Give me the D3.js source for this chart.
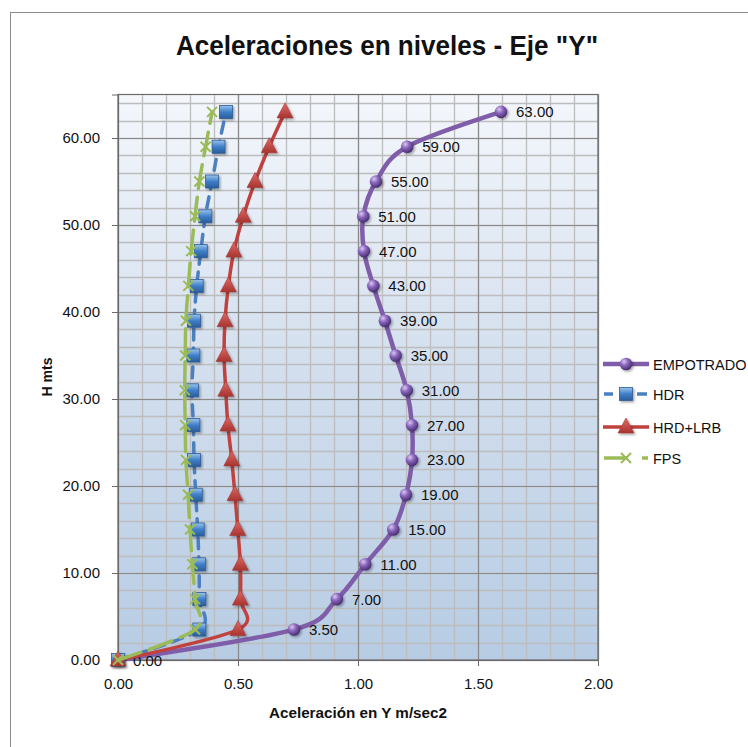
<!DOCTYPE html>
<html><head><meta charset="utf-8">
<script src="https://cdn.jsdelivr.net/npm/d3@7/dist/d3.min.js"></script>
<style>body{margin:0;background:#fff}svg{display:block}text{font-family:"Liberation Sans",Arial,sans-serif;fill:#111}</style>
</head><body>
<script>
const heights = [0,3.5,7,11,15,19,23,27,31,35,39,43,47,51,55,59,63];
const empotrado = [0,0.733,0.912,1.03,1.147,1.20,1.225,1.225,1.203,1.157,1.112,1.064,1.025,1.022,1.075,1.205,1.596];
const hdr = [0,0.339,0.339,0.3375,0.332,0.324,0.317,0.314,0.308,0.314,0.317,0.328,0.345,0.364,0.392,0.419,0.45];
const hrdLrb = [0,0.50,0.51,0.51,0.499,0.4875,0.474,0.458,0.449,0.442,0.446,0.46,0.483,0.522,0.571,0.63,0.696];
const fps = [0,0.321,0.321,0.31,0.30,0.292,0.283,0.28,0.278,0.28,0.283,0.293,0.305,0.321,0.339,0.365,0.392];
const xTicks = [0,0.5,1.0,1.5,2.0];
const yTicks = [0,10,20,30,40,50,60];
const seriesNames = ["EMPOTRADO","HDR","HRD+LRB","FPS"];

const W=748,H=747;
const svg=d3.select("body").append("svg").attr("width",W).attr("height",H);
const defs=svg.append("defs");
const bg=defs.append("linearGradient").attr("id","bg").attr("x1",0).attr("y1",0).attr("x2",0).attr("y2",1);
bg.append("stop").attr("offset","0%").attr("stop-color","#f4f7fc");
bg.append("stop").attr("offset","50%").attr("stop-color","#d2deed");
bg.append("stop").attr("offset","100%").attr("stop-color","#b7cce4");
const sph=defs.append("radialGradient").attr("id","sph").attr("cx","35%").attr("cy","30%").attr("r","70%");
sph.append("stop").attr("offset","0%").attr("stop-color","#d9c8f0");
sph.append("stop").attr("offset","45%").attr("stop-color","#8b66bd");
sph.append("stop").attr("offset","100%").attr("stop-color","#4a2f72");
const sq=defs.append("linearGradient").attr("id","sq").attr("x1",0).attr("y1",0).attr("x2",0).attr("y2",1);
sq.append("stop").attr("offset","0%").attr("stop-color","#9cc3ee");
sq.append("stop").attr("offset","50%").attr("stop-color","#3f7fc8");
sq.append("stop").attr("offset","100%").attr("stop-color","#2a5d9a");
const tri=defs.append("linearGradient").attr("id","tri").attr("x1",0).attr("y1",0).attr("x2",0).attr("y2",1);
tri.append("stop").attr("offset","0%").attr("stop-color","#e06a66");
tri.append("stop").attr("offset","100%").attr("stop-color","#a83430");
const sh=defs.append("filter").attr("id","sh").attr("x","-50%").attr("y","-50%").attr("width","200%").attr("height","200%");
sh.append("feDropShadow").attr("dx",1.5).attr("dy",1.5).attr("stdDeviation",1.2).attr("flood-color","#000").attr("flood-opacity",0.35);

// chart frame
svg.append("rect").attr("x",10.5).attr("y",12.5).attr("width",W).attr("height",H).attr("fill","#fff").attr("stroke","#8a8a8a");

const L=118,R=598,T=94.5,B=660;
const x=d3.scaleLinear().domain([0,2]).range([L,R]);
const y=d3.scaleLinear().domain([0,65]).range([B,T]);

svg.append("rect").attr("x",L).attr("y",T).attr("width",R-L).attr("height",B-T).attr("fill","url(#bg)");

const g=svg.append("g");
// minor grid
const xMinor=d3.range(0,2.0001,0.1), yMinor=d3.range(0,65,2);
g.selectAll(".vx").data(xMinor).join("line").attr("x1",d=>Math.round(x(d))+0.5).attr("x2",d=>Math.round(x(d))+0.5)
 .attr("y1",T).attr("y2",B).attr("stroke","#bdbdbd").attr("stroke-width",1.3);
g.selectAll(".hy").data(yMinor).join("line").attr("y1",d=>Math.round(y(d))+0.5).attr("y2",d=>Math.round(y(d))+0.5)
 .attr("x1",L).attr("x2",R).attr("stroke","#bdbdbd").attr("stroke-width",1.3);
// major grid
g.selectAll(".vX").data(xTicks).join("line").attr("x1",d=>Math.round(x(d))+0.5).attr("x2",d=>Math.round(x(d))+0.5)
 .attr("y1",T).attr("y2",B).attr("stroke","#8a8a8a").attr("stroke-width",1.2);
g.selectAll(".hY").data(yTicks).join("line").attr("y1",d=>Math.round(y(d))+0.5).attr("y2",d=>Math.round(y(d))+0.5)
 .attr("x1",L).attr("x2",R).attr("stroke","#8a8a8a").attr("stroke-width",1.2);
svg.append("rect").attr("x",L).attr("y",T).attr("width",R-L).attr("height",B-T).attr("fill","none").attr("stroke","#6a6a6a").attr("stroke-width",1.2);

// axes
const xAx=svg.append("g").attr("transform",`translate(0,${B})`).call(d3.axisBottom(x).tickValues(xTicks).tickFormat(d3.format(".2f")).tickSize(6).tickPadding(12));
const yAx=svg.append("g").attr("transform",`translate(${L},0)`).call(d3.axisLeft(y).tickValues(yTicks).tickFormat(d3.format(".2f")).tickSize(6).tickPadding(12));
[xAx,yAx].forEach(a=>{a.select(".domain").attr("stroke","#6a6a6a");a.selectAll("line").attr("stroke","#6a6a6a");
 a.selectAll("text").style("font-size","15px").attr("fill","#111").style("font-family","'Liberation Sans',Arial,sans-serif");});

// titles
svg.append("text").attr("x",387).attr("y",55).attr("text-anchor","middle").style("font-size","27px").style("font-weight","bold")
 .attr("textLength",422).attr("lengthAdjust","spacingAndGlyphs").text('Aceleraciones en niveles - Eje "Y"');
svg.append("text").attr("x",358).attr("y",718).attr("text-anchor","middle").style("font-size","14px").style("font-weight","bold")
 .attr("textLength",178).attr("lengthAdjust","spacingAndGlyphs").text("Aceleración en Y  m/sec2");
svg.append("text").attr("transform","translate(52,377) rotate(-90)").attr("text-anchor","middle").style("font-size","14px").style("font-weight","bold")
 .text("H mts");

const curve=d3.curveCardinal.tension(0);
const series=[
 {name:seriesNames[0],vals:empotrado,color:"#7f5da9",w:4.5,dash:null,marker:"sphere"},
 {name:seriesNames[1],vals:hdr,color:"#4a7fc1",w:3.5,dash:"11,8",marker:"square"},
 {name:seriesNames[2],vals:hrdLrb,color:"#c0413d",w:3.5,dash:null,marker:"triangle"},
 {name:seriesNames[3],vals:fps,color:"#9bbb59",w:3.5,dash:"24,9",marker:"x"}
];
function drawMarker(sel,type,cx,cy){
 if(type==="sphere") sel.append("circle").attr("cx",cx).attr("cy",cy).attr("r",6.3).attr("fill","url(#sph)").attr("filter","url(#sh)");
 else if(type==="square") sel.append("rect").attr("x",cx-6.5).attr("y",cy-6.5).attr("width",13).attr("height",13).attr("fill","url(#sq)").attr("stroke","#2c5c95").attr("stroke-width",0.8).attr("filter","url(#sh)");
 else if(type==="triangle") sel.append("path").attr("d",`M${cx},${cy-9}L${cx+8},${cy+6}L${cx-8},${cy+6}Z`).attr("fill","url(#tri)").attr("stroke","#a33a36").attr("stroke-width",0.6).attr("filter","url(#sh)");
 else sel.append("path").attr("d",`M${cx-5},${cy-5}L${cx+5},${cy+5}M${cx+5},${cy-5}L${cx-5},${cy+5}`).attr("stroke","#9bbb59").attr("stroke-width",2).attr("fill","none");
}
const line=d3.line().curve(curve);
series.forEach(s=>{
 const pts=heights.map((h,i)=>[x(s.vals[i]),y(h)]);
 const gg=svg.append("g");
 gg.append("path").attr("d",line(pts)).attr("fill","none").attr("stroke",s.color).attr("stroke-width",s.w)
  .attr("stroke-dasharray",s.dash).attr("stroke-linecap","round").attr("stroke-linejoin","round");
 pts.forEach(p=>drawMarker(gg,s.marker,p[0],p[1]));
 if(s.name==="EMPOTRADO"){
  gg.selectAll("text.lbl").data(heights).join("text").attr("class","lbl")
   .attr("x",(h,i)=>x(s.vals[i])+15).attr("y",h=>y(h)+5.5).style("font-size","15px").text(h=>d3.format(".2f")(h));
 }
});

// legend
const lg=svg.append("g");
const legY=[364,394,427,458];
series.forEach((s,i)=>{
 const yy=legY[i];
 if(s.dash){
  if(s.name==="HDR"){
   lg.append("line").attr("x1",604).attr("x2",613).attr("y1",yy).attr("y2",yy).attr("stroke",s.color).attr("stroke-width",s.w);
   lg.append("line").attr("x1",637).attr("x2",647).attr("y1",yy).attr("y2",yy).attr("stroke",s.color).attr("stroke-width",s.w);
  } else {
   lg.append("line").attr("x1",604).attr("x2",628).attr("y1",yy).attr("y2",yy).attr("stroke",s.color).attr("stroke-width",s.w);
   lg.append("line").attr("x1",642).attr("x2",648).attr("y1",yy).attr("y2",yy).attr("stroke",s.color).attr("stroke-width",s.w);
  }
 } else lg.append("line").attr("x1",603).attr("x2",649).attr("y1",yy).attr("y2",yy).attr("stroke",s.color).attr("stroke-width",s.w);
 drawMarker(lg,s.marker,626,yy);
 lg.append("text").attr("x",653).attr("y",yy+5.5).style("font-size","14.5px").text(s.name);
});
</script>
</body></html>
